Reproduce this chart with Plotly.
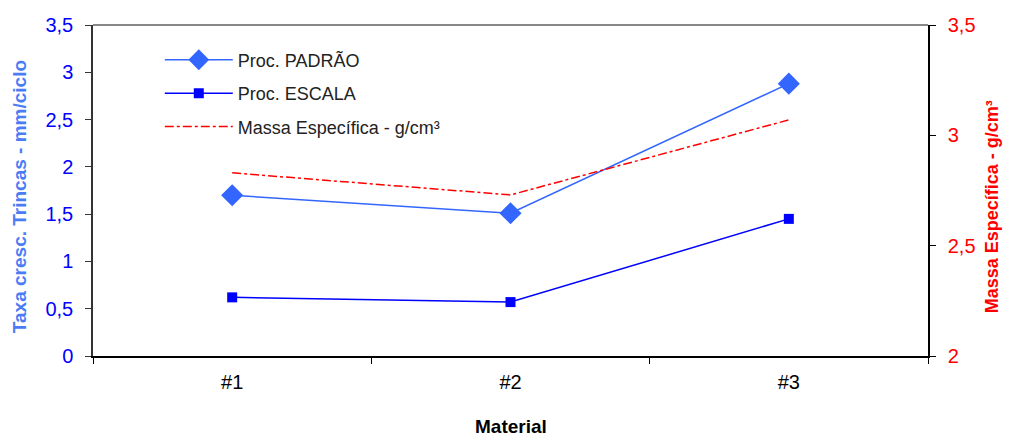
import plotly.graph_objects as go

categories = ["#1", "#2", "#3"]
padrao = [1.70, 1.51, 2.88]
escala = [0.62, 0.57, 1.45]
massa = [2.83, 2.73, 3.07]
y_ticks = [0, 0.5, 1, 1.5, 2, 2.5, 3, 3.5]
y2_ticks = [2, 2.5, 3, 3.5]

fig = go.Figure()
fig.add_trace(go.Scatter(x=categories, y=padrao, name="Proc. PADRÃO", mode="lines+markers",
                         line=dict(color="#3366FF", width=1.5),
                         marker=dict(symbol="diamond", size=17, color="#3366FF"),
                         legendgroup="a"))
fig.add_trace(go.Scatter(x=categories, y=escala, name="Proc. ESCALA", mode="lines+markers",
                         line=dict(color="#0000FF", width=1.5),
                         marker=dict(symbol="square", size=10, color="#0000FF"),
                         legendgroup="b"))
fig.add_trace(go.Scatter(x=categories, y=massa, name="Massa Específica - g/cm³", mode="lines",
                         line=dict(color="#FF0000", width=1.5, dash="dashdot"),
                         yaxis="y2", legendgroup="c"))

fig.update_layout(
    width=1004, height=429,
    margin=dict(l=85, r=84, t=17, b=81),
    plot_bgcolor="white", paper_bgcolor="white",
    separators=",.",
    font=dict(family="Arial, Liberation Sans, sans-serif"),
    showlegend=True,
    legend=dict(x=0.08, y=0.95, xanchor="left", yanchor="top",
                font=dict(size=18, color="#222"), bgcolor="rgba(0,0,0,0)",
                itemwidth=68,
                traceorder="grouped", tracegroupgap=7),
    xaxis=dict(type="category", range=[-0.5, 2.5], tickson="boundaries", automargin=False,
               ticks="outside", ticklen=6, tickcolor="black", ticklabelstandoff=7,
               showline=True, linecolor="black", linewidth=1.5, showgrid=False,
               tickfont=dict(size=20, color="black", family="Liberation Sans Narrow, Arial Narrow, Arial")),
    yaxis=dict(range=[0, 3.5], tickvals=y_ticks, ticks="outside", ticklen=6, tickcolor="#333",
               automargin=False, ticklabelstandoff=8,
               showline=True, linecolor="#333", linewidth=1.5, showgrid=False, zeroline=False,
               tickfont=dict(size=20, color="#0000FF")),
    yaxis2=dict(range=[2, 3.5], tickvals=y2_ticks, overlaying="y", side="right",
                ticks="outside", ticklen=6, tickcolor="black",
                automargin=False, ticklabelstandoff=8,
                showline=True, linecolor="black", linewidth=1.5, showgrid=False, zeroline=False,
                tickfont=dict(size=20, color="#FF0000")),
    shapes=[dict(type="line", xref="paper", yref="paper", x0=0, x1=1, y0=1, y1=1,
                 line=dict(color="#888", width=2))],
    annotations=[
        dict(text="<b>Material</b>", xref="paper", yref="paper", x=0.5, y=-0.212,
             xanchor="center", yanchor="middle", showarrow=False,
             font=dict(size=19, color="black")),
        dict(text="<b>Taxa cresc. Trincas - mm/ciclo</b>", xref="paper", yref="paper",
             x=-0.0886, y=0.48, textangle=-90, xanchor="center", yanchor="middle",
             showarrow=False, font=dict(size=19, color="#4A7CF5")),
        dict(text="<b>Massa Específica - g/cm³</b>", xref="paper", yref="paper",
             x=1.077, y=0.45, textangle=-90, xanchor="center", yanchor="middle",
             showarrow=False, font=dict(size=18, color="#FF0000")),
    ],
)

fig.write_html("out.html")
